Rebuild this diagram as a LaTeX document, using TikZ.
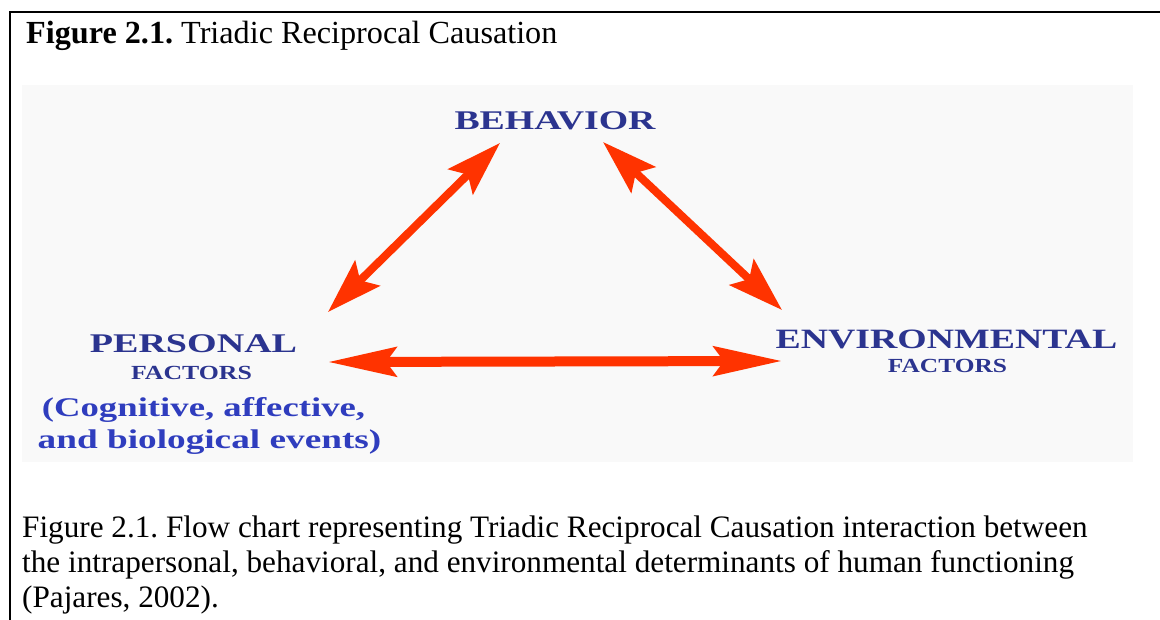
\documentclass[tikz,border=0pt]{standalone}
\usepackage{fontspec}
\setmainfont{Liberation Serif}
\usetikzlibrary{arrows.meta}
\definecolor{navy}{HTML}{2B348F}
\definecolor{lblue}{HTML}{2F3DBE}
\definecolor{arrred}{HTML}{FF3300}
\definecolor{panel}{HTML}{F9F9F9}
\frenchspacing
\begin{document}
\begin{tikzpicture}[x=1pt,y=-1pt,
  txt/.style={anchor=base west, inner sep=0pt, text=black, font=\fontsize{31.2}{36}\selectfont},
  lbl/.style={anchor=base, inner sep=0pt, text=navy, font=\bfseries\fontsize{27}{32}\selectfont},
  small/.style={anchor=base, inner sep=0pt, text=navy, font=\bfseries\fontsize{20}{24}\selectfont},
  paren/.style={anchor=base, inner sep=0pt, text=lblue, font=\bfseries\fontsize{27}{32}\selectfont},
  diag/.style={draw=arrred, line width=8pt, {Stealth[length=55pt,width=35pt,inset=10pt]}-{Stealth[length=55pt,width=35pt,inset=10pt]}},
  horiz/.style={draw=arrred, line width=10pt, {Stealth[length=68pt,width=29pt,inset=10pt]}-{Stealth[length=68pt,width=29pt,inset=10pt]}}
]
\useasboundingbox (0,0) rectangle (1160,620);
\fill[white] (0,0) rectangle (1160,620);
% frame
\draw[line width=2.2pt] (10,620) -- (10,12) -- (1160,12);
% panel
\fill[panel] (22,85) rectangle (1133,462);
% title
\node[txt,font=\fontsize{32.2}{36}\selectfont] (title) at (26,44) {\textbf{Figure 2.1.} Triadic Reciprocal Causation};
% labels
\node[lbl] (beh) at (555,130) {\scalebox{1.40}[1]{BEHAVIOR}};
\node[lbl] (pers) at (193.5,353) {\scalebox{1.41}[1]{PERSONAL}};
\node[small] (pfac) at (191.5,380) {\scalebox{1.29}[1]{FACTORS}};
\node[paren] (cog1) at (203.5,417) {\scalebox{1.36}[1]{(Cognitive, affective,}};
\node[paren] (cog2) at (209.5,448) {\scalebox{1.38}[1]{and biological events)}};
\node[lbl,font=\bfseries\fontsize{28}{32}\selectfont] (env) at (946.5,349) {\scalebox{1.35}[1]{ENVIRONMENTAL}};
\node[small] (efac) at (947.5,373) {\scalebox{1.27}[1]{FACTORS}};
% arrow ends
\coordinate (bl) at (500,143);
\coordinate (br) at (603,142);
\coordinate (pt) at (328,312);
\coordinate (et) at (782,310);
\coordinate (ph) at (328,362);
\coordinate (eh) at (782,361);
\draw[diag] (bl) -- (pt);
\draw[diag] (br) -- (et);
\draw[horiz] (ph) -- (eh);
% caption
\node[txt] (cap1) at (22,537) {Figure 2.1. Flow chart representing Triadic Reciprocal Causation interaction between};
\node[txt] (cap2) at (22,572) {the intrapersonal, behavioral, and environmental determinants of human functioning};
\node[txt] (cap3) at (22,607) {(Pajares, 2002).};
\end{tikzpicture}
\end{document}
